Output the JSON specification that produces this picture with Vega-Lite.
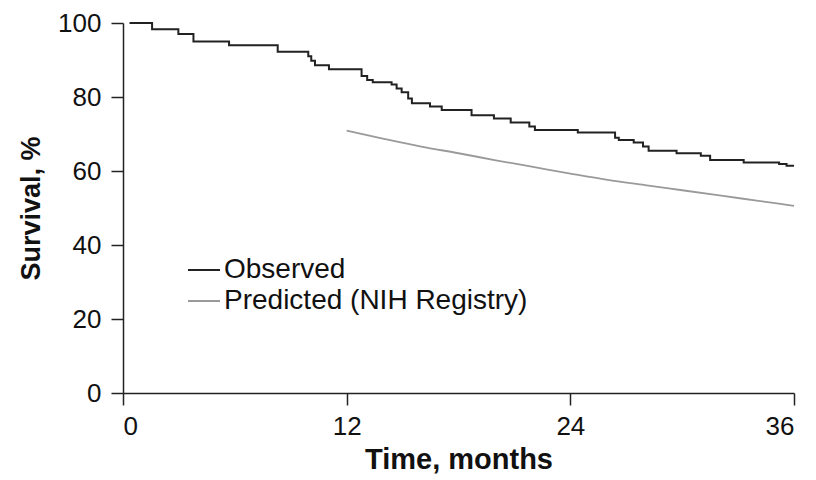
{
  "$schema": "https://vega.github.io/schema/vega-lite/v6.json",
  "width": 671,
  "height": 370,
  "autosize": "none",
  "padding": {"left": 123, "top": 23, "right": 22, "bottom": 87},
  "background": "white",
  "config": {
    "view": {"stroke": null},
    "font": "Liberation Sans",
    "axis": {
      "grid": false,
      "domainColor": "#222",
      "domainWidth": 1.5,
      "tickColor": "#222",
      "tickWidth": 1.5,
      "tickSize": 12,
      "labelFont": "Liberation Sans",
      "labelFontSize": 26,
      "labelColor": "#111",
      "titleFont": "Liberation Sans",
      "titleFontWeight": "bold",
      "titleColor": "#111"
    },
    "legend": {
      "orient": "none",
      "legendX": 64,
      "legendY": 230,
      "symbolType": "stroke",
      "symbolSize": 1024,
      "symbolStrokeWidth": 2,
      "labelFont": "Liberation Sans",
      "labelFontSize": 28,
      "labelColor": "#111",
      "labelOffset": 3,
      "labelLimit": 0,
      "rowPadding": 0,
      "padding": 0
    }
  },
  "data": {
    "values": [
      {"t": 0.35, "s": 100, "series": "Observed"},
      {"t": 1.56, "s": 98.3, "series": "Observed"},
      {"t": 2.97, "s": 97.0, "series": "Observed"},
      {"t": 3.78, "s": 95.0, "series": "Observed"},
      {"t": 5.69, "s": 94.0, "series": "Observed"},
      {"t": 8.3, "s": 92.2, "series": "Observed"},
      {"t": 9.94, "s": 91.0, "series": "Observed"},
      {"t": 10.1, "s": 89.8, "series": "Observed"},
      {"t": 10.3, "s": 88.6, "series": "Observed"},
      {"t": 11.05, "s": 87.5, "series": "Observed"},
      {"t": 12.8, "s": 85.7, "series": "Observed"},
      {"t": 13.1, "s": 84.6, "series": "Observed"},
      {"t": 13.4, "s": 84.0, "series": "Observed"},
      {"t": 14.41, "s": 83.4, "series": "Observed"},
      {"t": 14.68, "s": 82.3, "series": "Observed"},
      {"t": 14.95, "s": 81.3, "series": "Observed"},
      {"t": 15.3, "s": 79.6, "series": "Observed"},
      {"t": 15.5, "s": 78.3, "series": "Observed"},
      {"t": 16.47, "s": 77.4, "series": "Observed"},
      {"t": 17.1, "s": 76.5, "series": "Observed"},
      {"t": 18.7, "s": 75.1, "series": "Observed"},
      {"t": 19.9, "s": 74.2, "series": "Observed"},
      {"t": 20.8, "s": 73.1, "series": "Observed"},
      {"t": 21.8, "s": 72.0, "series": "Observed"},
      {"t": 22.1, "s": 71.1, "series": "Observed"},
      {"t": 24.4, "s": 70.4, "series": "Observed"},
      {"t": 26.4, "s": 69.0, "series": "Observed"},
      {"t": 26.6, "s": 68.4, "series": "Observed"},
      {"t": 27.4, "s": 67.7, "series": "Observed"},
      {"t": 27.9, "s": 66.6, "series": "Observed"},
      {"t": 28.2, "s": 65.5, "series": "Observed"},
      {"t": 29.7, "s": 64.8, "series": "Observed"},
      {"t": 31.0, "s": 64.1, "series": "Observed"},
      {"t": 31.5, "s": 63.0, "series": "Observed"},
      {"t": 33.3, "s": 62.3, "series": "Observed"},
      {"t": 35.2, "s": 61.9, "series": "Observed"},
      {"t": 35.6, "s": 61.4, "series": "Observed"},
      {"t": 36.0, "s": 61.4, "series": "Observed"},
      {"t": 12, "s": 70.9, "series": "Predicted (NIH Registry)"},
      {"t": 14, "s": 68.7, "series": "Predicted (NIH Registry)"},
      {"t": 16, "s": 66.6, "series": "Predicted (NIH Registry)"},
      {"t": 18, "s": 64.8, "series": "Predicted (NIH Registry)"},
      {"t": 20, "s": 62.9, "series": "Predicted (NIH Registry)"},
      {"t": 22, "s": 61.1, "series": "Predicted (NIH Registry)"},
      {"t": 24, "s": 59.3, "series": "Predicted (NIH Registry)"},
      {"t": 26, "s": 57.6, "series": "Predicted (NIH Registry)"},
      {"t": 28, "s": 56.2, "series": "Predicted (NIH Registry)"},
      {"t": 30, "s": 54.8, "series": "Predicted (NIH Registry)"},
      {"t": 32, "s": 53.4, "series": "Predicted (NIH Registry)"},
      {"t": 34, "s": 52.0, "series": "Predicted (NIH Registry)"},
      {"t": 36, "s": 50.6, "series": "Predicted (NIH Registry)"}
    ]
  },
  "encoding": {
    "x": {
      "field": "t",
      "type": "quantitative",
      "scale": {"domain": [0, 36], "nice": false, "zero": false},
      "axis": {"values": [0, 12, 24, 36], "title": "Time, months", "titleFontSize": 29, "labelPadding": 8, "titlePadding": 6}
    },
    "y": {
      "field": "s",
      "type": "quantitative",
      "scale": {"domain": [0, 100], "nice": false},
      "axis": {"values": [0, 20, 40, 60, 80, 100], "title": "Survival, %", "titleFontSize": 27, "labelPadding": 10, "titlePadding": 12}
    },
    "color": {
      "field": "series",
      "type": "nominal",
      "scale": {"domain": ["Observed", "Predicted (NIH Registry)"], "range": ["#222222", "#9a9a9a"]},
      "legend": {"title": null}
    }
  },
  "layer": [
    {
      "transform": [{"filter": "datum.series === 'Observed'"}],
      "mark": {"type": "line", "interpolate": "step-after", "strokeWidth": 2}
    },
    {
      "transform": [{"filter": "datum.series !== 'Observed'"}],
      "mark": {"type": "line", "interpolate": "monotone", "strokeWidth": 1.8}
    }
  ]
}
